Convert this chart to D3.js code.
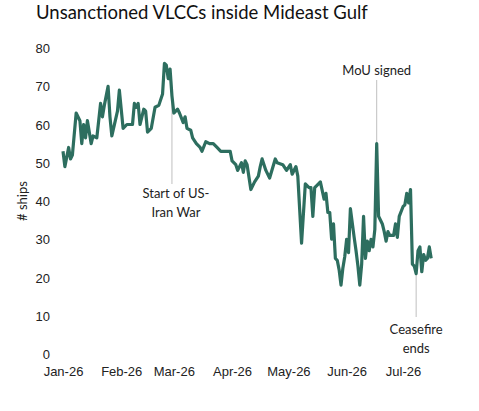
<!DOCTYPE html>
<html lang="en">
<head>
<meta charset="utf-8">
<title>Unsanctioned VLCCs inside Mideast Gulf</title>
<script src="https://d3js.org/d3.v7.min.js"></script>
<style>
  body { margin: 0; background: #fff; }
  svg { font-family: Lato, "Open Sans", sans-serif; }
  .title { font-size: 18.5px; fill: #111; }
  .axis text { font-size: 13px; fill: #222; }
  .axis path { display: none; }
  .note { font-size: 13px; fill: #222; }
  .leader { stroke: #bfbfbf; stroke-width: 1; }
  .series { fill: none; stroke: #2d6e5f; stroke-width: 3.2; stroke-linejoin: round; }
</style>
</head>
<body>
<script>
// dates of observations (2026) and number of ships
var dates = [
  "2026-01-01","2026-01-02","2026-01-04","2026-01-05","2026-01-06","2026-01-08","2026-01-10","2026-01-11",
  "2026-01-12","2026-01-13","2026-01-14","2026-01-16","2026-01-17","2026-01-19","2026-01-21","2026-01-22",
  "2026-01-23","2026-01-25","2026-01-26","2026-01-27","2026-01-30","2026-01-31","2026-02-02","2026-02-04",
  "2026-02-07","2026-02-08","2026-02-09","2026-02-10","2026-02-11","2026-02-13","2026-02-14","2026-02-15",
  "2026-02-17","2026-02-19","2026-02-21","2026-02-23","2026-02-24","2026-02-25","2026-02-26","2026-02-27",
  "2026-02-28","2026-03-01","2026-03-03","2026-03-04","2026-03-06","2026-03-07","2026-03-08","2026-03-10",
  "2026-03-11","2026-03-13","2026-03-15","2026-03-16","2026-03-18","2026-03-20","2026-03-22","2026-03-24",
  "2026-03-26","2026-03-28","2026-03-31","2026-04-01","2026-04-03","2026-04-04","2026-04-06","2026-04-07",
  "2026-04-08","2026-04-09","2026-04-11","2026-04-13","2026-04-15","2026-04-16","2026-04-17","2026-04-19",
  "2026-04-21","2026-04-24","2026-04-25","2026-04-28","2026-04-30","2026-05-02","2026-05-03","2026-05-05",
  "2026-05-06","2026-05-08","2026-05-10","2026-05-12","2026-05-13","2026-05-14","2026-05-15","2026-05-17",
  "2026-05-18","2026-05-20","2026-05-21","2026-05-22","2026-05-23","2026-05-24","2026-05-25","2026-05-26",
  "2026-05-27","2026-05-28","2026-05-29","2026-05-30","2026-05-31","2026-06-01","2026-06-02","2026-06-03",
  "2026-06-05","2026-06-06","2026-06-07","2026-06-08","2026-06-09","2026-06-10","2026-06-11","2026-06-12",
  "2026-06-13","2026-06-14","2026-06-15","2026-06-16","2026-06-17","2026-06-18","2026-06-20","2026-06-21",
  "2026-06-22","2026-06-23","2026-06-24","2026-06-26","2026-06-27","2026-06-28","2026-06-29","2026-07-01",
  "2026-07-02","2026-07-03","2026-07-04","2026-07-05","2026-07-06","2026-07-07","2026-07-08","2026-07-09",
  "2026-07-10","2026-07-11","2026-07-12","2026-07-13","2026-07-14","2026-07-15","2026-07-16"
];
var ships = [
  53, 49, 54, 51, 52, 63, 61, 55,
  60, 56.5, 61, 55, 57, 56.5, 65.5, 62,
  65, 70, 62, 57, 63.5, 69, 59, 60,
  60, 65.5, 64.5, 65.5, 60, 64, 63.5, 58,
  59, 64.5, 65, 68, 76, 75.5, 72, 74.5,
  67.5, 63, 64, 63, 60.5, 62, 59, 58.5,
  56.5, 55, 54, 53, 55.5, 55, 55, 54,
  53, 53, 53, 50.5, 49.5, 48, 50, 47.5,
  50.5, 49.5, 43, 45, 46.5, 49, 51, 48,
  46, 51, 50, 49.5, 48, 49.5, 47, 49,
  46.5, 29, 44.5, 43.5, 43.5, 36, 43.5, 44.5,
  45, 40.5, 42, 37, 37, 30, 34, 25,
  24.5, 22, 18, 22.5, 25.5, 30, 26.5, 38,
  30.5, 27, 23, 18, 23.5, 36, 25, 29.5,
  27, 30, 28, 32.5, 55, 36, 34, 32,
  29.5, 32, 31, 31, 34, 30.5, 36, 38.5,
  39, 42, 39.5, 43, 23.5, 23, 21, 27,
  28, 21.5, 26, 24.5, 25, 28, 25
];

// axis ticks
var monthTicks = ["2026-01-01","2026-02-01","2026-03-01","2026-04-01","2026-05-01","2026-06-01","2026-07-01"];
var yTicks = [0, 10, 20, 30, 40, 50, 60, 70, 80];

// annotated events
var noteDates = ["2026-02-28", "2026-06-17", "2026-07-08"];
var noteLabels = [["Start of US-", "Iran War"], ["MoU signed"], ["Ceasefire", "ends"]];

var w = 479, h = 411;
var parse = d3.timeParse("%Y-%m-%d");
var data = dates.map(function(d, i) { return { date: parse(d), value: ships[i] }; });

var x = d3.scaleTime()
  .domain([parse(monthTicks[0]), parse(monthTicks[monthTicks.length - 1])])
  .range([63, 403]);

var y = d3.scaleLinear()
  .domain([0, 80])
  .range([354, 48]);

var svg = d3.select("body").append("svg")
  .attr("width", w)
  .attr("height", h);

svg.append("text")
  .attr("class", "title")
  .attr("x", 36)
  .attr("y", 19)
  .text("Unsanctioned VLCCs inside Mideast Gulf");

// y axis
svg.append("g")
  .attr("class", "axis")
  .attr("transform", "translate(56,0)")
  .call(d3.axisLeft(y).tickValues(yTicks).tickSize(0).tickPadding(6))
  .selectAll("text").attr("dy", "0.35em");

svg.append("text")
  .attr("transform", "translate(27,201) rotate(-90)")
  .attr("text-anchor", "middle")
  .style("font-size", "13px")
  .style("fill", "#222")
  .text("# ships");

// x axis
svg.append("g")
  .attr("class", "axis")
  .attr("transform", "translate(0," + y(0) + ")")
  .call(d3.axisBottom(x)
    .tickValues(monthTicks.map(parse))
    .tickSize(0)
    .tickPadding(13)
    .tickFormat(d3.timeFormat("%b-%y")));

// leader lines for notes (drawn under the series)
var noteGeom = [
  { y1: 184, textY: 193, dx: 4 },
  { y1: 80, textY: 70, dx: 0 },
  { y1: 317, textY: 329, dx: 0 }
];

noteDates.forEach(function(nd, i) {
  var dt = parse(nd);
  var pt = data.find(function(d) { return +d.date === +dt; });
  var g = noteGeom[i];
  svg.append("line")
    .attr("class", "leader")
    .attr("x1", x(dt)).attr("x2", x(dt))
    .attr("y1", y(pt.value)).attr("y2", g.y1);
});

var line = d3.line()
  .x(function(d) { return x(d.date); })
  .y(function(d) { return y(d.value); });

svg.append("path")
  .datum(data)
  .attr("class", "series")
  .attr("d", line);

noteDates.forEach(function(nd, i) {
  var dt = parse(nd);
  var g = noteGeom[i];
  var t = svg.append("text")
    .attr("class", "note")
    .attr("text-anchor", "middle")
    .attr("x", x(dt) + g.dx)
    .attr("y", g.textY);
  noteLabels[i].forEach(function(s, j) {
    t.append("tspan")
      .attr("x", x(dt) + g.dx)
      .attr("dy", j === 0 ? "0.35em" : "1.5em")
      .text(s);
  });
});
</script>
</body>
</html>
